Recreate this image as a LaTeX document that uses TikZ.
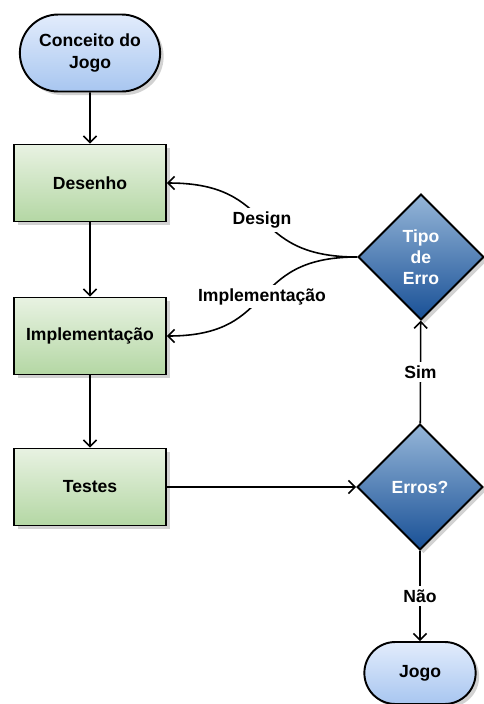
\documentclass[tikz,border=0pt]{standalone}
\usepackage{fontspec}
\setmainfont{Liberation Sans}
\usepackage{tikz}
\usetikzlibrary{arrows.meta, shapes.geometric, shapes.misc, shadows}
\definecolor{termtop}{RGB}{226, 236, 252}
\definecolor{termbot}{RGB}{168, 198, 240}
\definecolor{proctop}{RGB}{232, 242, 226}
\definecolor{procbot}{RGB}{180, 215, 164}
\definecolor{dectop}{RGB}{150, 182, 216}
\definecolor{decbot}{RGB}{24, 80, 150}

\begin{document}
\begin{tikzpicture}[
    term/.style={rounded rectangle, draw, line width=1.1pt, minimum width=3.04cm, minimum height=1.54cm, align=center, font=\bfseries, top color=termtop, bottom color=termbot, drop shadow={shadow xshift=2pt, shadow yshift=-2pt, fill=black!35}},
    proc/.style={rectangle, draw, line width=1.1pt, minimum width=3.04cm, minimum height=1.54cm, align=center, font=\bfseries, top color=proctop, bottom color=procbot, drop shadow={shadow xshift=2pt, shadow yshift=-2pt, fill=black!35}},
    decision/.style={diamond, draw, line width=1.1pt, minimum size=2.52cm, inner sep=0pt, aspect=1, align=center, font=\bfseries, text=white, top color=dectop, bottom color=decbot, drop shadow={shadow xshift=2pt, shadow yshift=-2pt, fill=black!35}},
    arrow/.style={-{Straight Barb[length=1.3mm, width=2.6mm]}, line width=0.9pt},
    lbl/.style={font=\bfseries, fill=white, inner sep=2pt},
]
\useasboundingbox (0, 0) rectangle (9.66, -14.08);

% Start
\node[term] (conceito) at (1.80, -1.06) {Conceito do\\Jogo};

% Process steps
\node[proc] (desenho) at (1.80, -3.66) {Desenho};
\node[proc] (impl) at (1.80, -6.72) {Implementação};
\node[proc] (testes) at (1.80, -9.74) {Testes};

% Decisions
\node[decision] (erros) at (8.40, -9.74) {Erros?};
\node[decision] (tipo) at (8.42, -5.14) {Tipo\\de\\Erro};

% End
\node[term, minimum width=2.46cm, minimum height=1.24cm] (jogo) at (8.40, -13.46) {Jogo};

% Arrows
\draw[arrow] (conceito) -- (desenho);
\draw[arrow] (desenho) -- (impl);
\draw[arrow] (impl) -- (testes);
\draw[arrow] (testes) -- (erros);
\draw[arrow] (erros) -- node[lbl] {Sim} (tipo);
\draw[arrow] (erros) -- node[lbl] {Não} (jogo);
\draw[arrow] (tipo.west) to[out=180, in=0, looseness=1.4] node[lbl] {Design} (desenho.east);
\draw[arrow] (tipo.west) to[out=180, in=0, looseness=1.4] node[lbl] {Implementação} (impl.east);
\end{tikzpicture}
\end{document}
